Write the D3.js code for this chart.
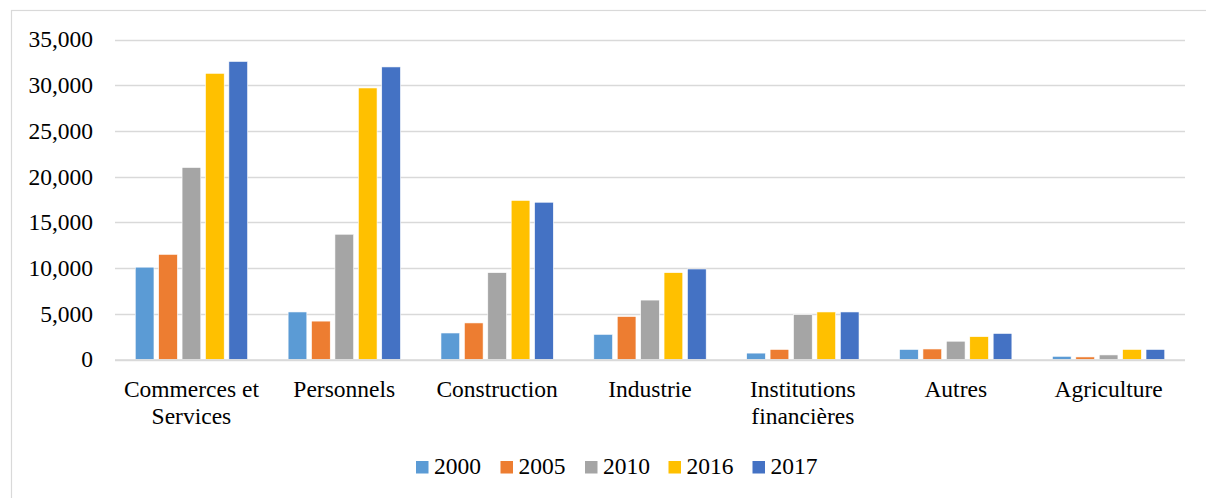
<!DOCTYPE html>
<html>
<head>
<meta charset="utf-8">
<script src="https://cdn.jsdelivr.net/npm/d3@7"></script>
<style>
  html, body { margin: 0; padding: 0; background: #fff; }
  svg { display: block; }
  svg text { font-family: "Liberation Serif", Tinos, "Times New Roman", Times, "DejaVu Serif", serif; }
</style>
</head>
<body>
<svg id="chart" width="1206" height="498"></svg>
<script>
// Sectors (labels split across lines where they wrap)
const categories = [
  ["Commerces et", "Services"],
  ["Personnels"],
  ["Construction"],
  ["Industrie"],
  ["Institutions", "financières"],
  ["Autres"],
  ["Agriculture"]
];
const years = ["2000", "2005", "2010", "2016", "2017"];
const values2000 = [10100, 5200, 2900, 2750, 700, 1100, 350];
const values2005 = [11500, 4200, 4000, 4700, 1100, 1150, 280];
const values2010 = [21000, 13700, 9500, 6500, 4900, 2000, 500];
const values2016 = [31300, 29700, 17400, 9500, 5200, 2500, 1100];
const values2017 = [32600, 32000, 17200, 9900, 5200, 2850, 1100];
const yTicks = [0, 5000, 10000, 15000, 20000, 25000, 30000, 35000];
const colors = ["#5B9BD5", "#ED7D31", "#A5A5A5", "#FFC000", "#4472C4"];

const seriesValues = [values2000, values2005, values2010, values2016, values2017];
const catKeys = categories.map(c => c.join(" "));
const FONT = '"Liberation Serif", Tinos, "Times New Roman", Times, "DejaVu Serif", serif';

const svg = d3.select("#chart");

// Chart frame
svg.append("rect")
  .attr("x", 11.5).attr("y", 10.5)
  .attr("width", 1220).attr("height", 520)
  .attr("fill", "none").attr("stroke", "#D9D9D9").attr("stroke-width", 1.2);

const plot = { left: 115, right: 1185, top: 39.5, bottom: 359.5 };

const y = d3.scaleLinear().domain([0, 35000]).range([plot.bottom, plot.top]);
const x0 = d3.scaleBand().domain(catKeys).range([plot.left, plot.right])
  .paddingInner(0.265).paddingOuter(0.1325);
const x1 = d3.scaleBand().domain(years).range([0, x0.bandwidth()])
  .paddingInner(0.2).paddingOuter(0);
const color = d3.scaleOrdinal().domain(years).range(colors);

// Gridlines
svg.append("g")
  .selectAll("line")
  .data(yTicks)
  .join("line")
  .attr("x1", plot.left).attr("x2", plot.right)
  .attr("y1", d => Math.round(y(d)) + 0.5).attr("y2", d => Math.round(y(d)) + 0.5)
  .attr("stroke", "#D9D9D9").attr("stroke-width", 1.3);

// Y axis labels
const fmt = d3.format(",");
svg.append("g")
  .selectAll("text")
  .data(yTicks)
  .join("text")
  .attr("x", 93).attr("y", d => y(d))
  .attr("dy", "0.34em")
  .attr("text-anchor", "end")
  .attr("font-family", FONT)
  .attr("font-size", 23.5)
  .attr("fill", "#000")
  .text(d => fmt(d));

// Bars
const groups = svg.append("g")
  .selectAll("g")
  .data(catKeys)
  .join("g")
  .attr("transform", d => `translate(${x0(d)},0)`);

groups.selectAll("rect")
  .data((d, i) => years.map((yr, j) => ({ year: yr, value: seriesValues[j][i] })))
  .join("rect")
  .attr("x", d => x1(d.year))
  .attr("y", d => y(d.value))
  .attr("width", x1.bandwidth())
  .attr("height", d => y(0) - y(d.value))
  .attr("fill", d => color(d.year))
  .attr("stroke", "#fff").attr("stroke-width", 0.6);

// Baseline
svg.append("line")
  .attr("x1", plot.left).attr("x2", plot.right)
  .attr("y1", y(0) + 0.5).attr("y2", y(0) + 0.5)
  .attr("stroke", "#D9D9D9").attr("stroke-width", 1.5);

// Category labels
const catLabels = svg.append("g")
  .selectAll("text")
  .data(categories)
  .join("text")
  .attr("x", (d, i) => x0(catKeys[i]) + x0.bandwidth() / 2)
  .attr("y", 397)
  .attr("text-anchor", "middle")
  .attr("font-family", FONT)
  .attr("font-size", 23.5)
  .attr("fill", "#000");
catLabels.selectAll("tspan")
  .data(d => d)
  .join("tspan")
  .attr("x", function() { return d3.select(this.parentNode).attr("x"); })
  .attr("dy", (d, i) => i === 0 ? 0 : 26.5)
  .text(d => d);

// Legend
const legendX = [416, 500.5, 585, 668.5, 752.5];
const legend = svg.append("g")
  .selectAll("g")
  .data(years)
  .join("g")
  .attr("transform", (d, i) => `translate(${legendX[i]},461)`);
legend.append("rect")
  .attr("width", 12.5).attr("height", 12.5)
  .attr("fill", d => color(d));
legend.append("text")
  .attr("x", 18).attr("y", 13)
  .attr("font-family", FONT)
  .attr("font-size", 23.5)
  .attr("fill", "#000")
  .text(d => d);
</script>
</body>
</html>
